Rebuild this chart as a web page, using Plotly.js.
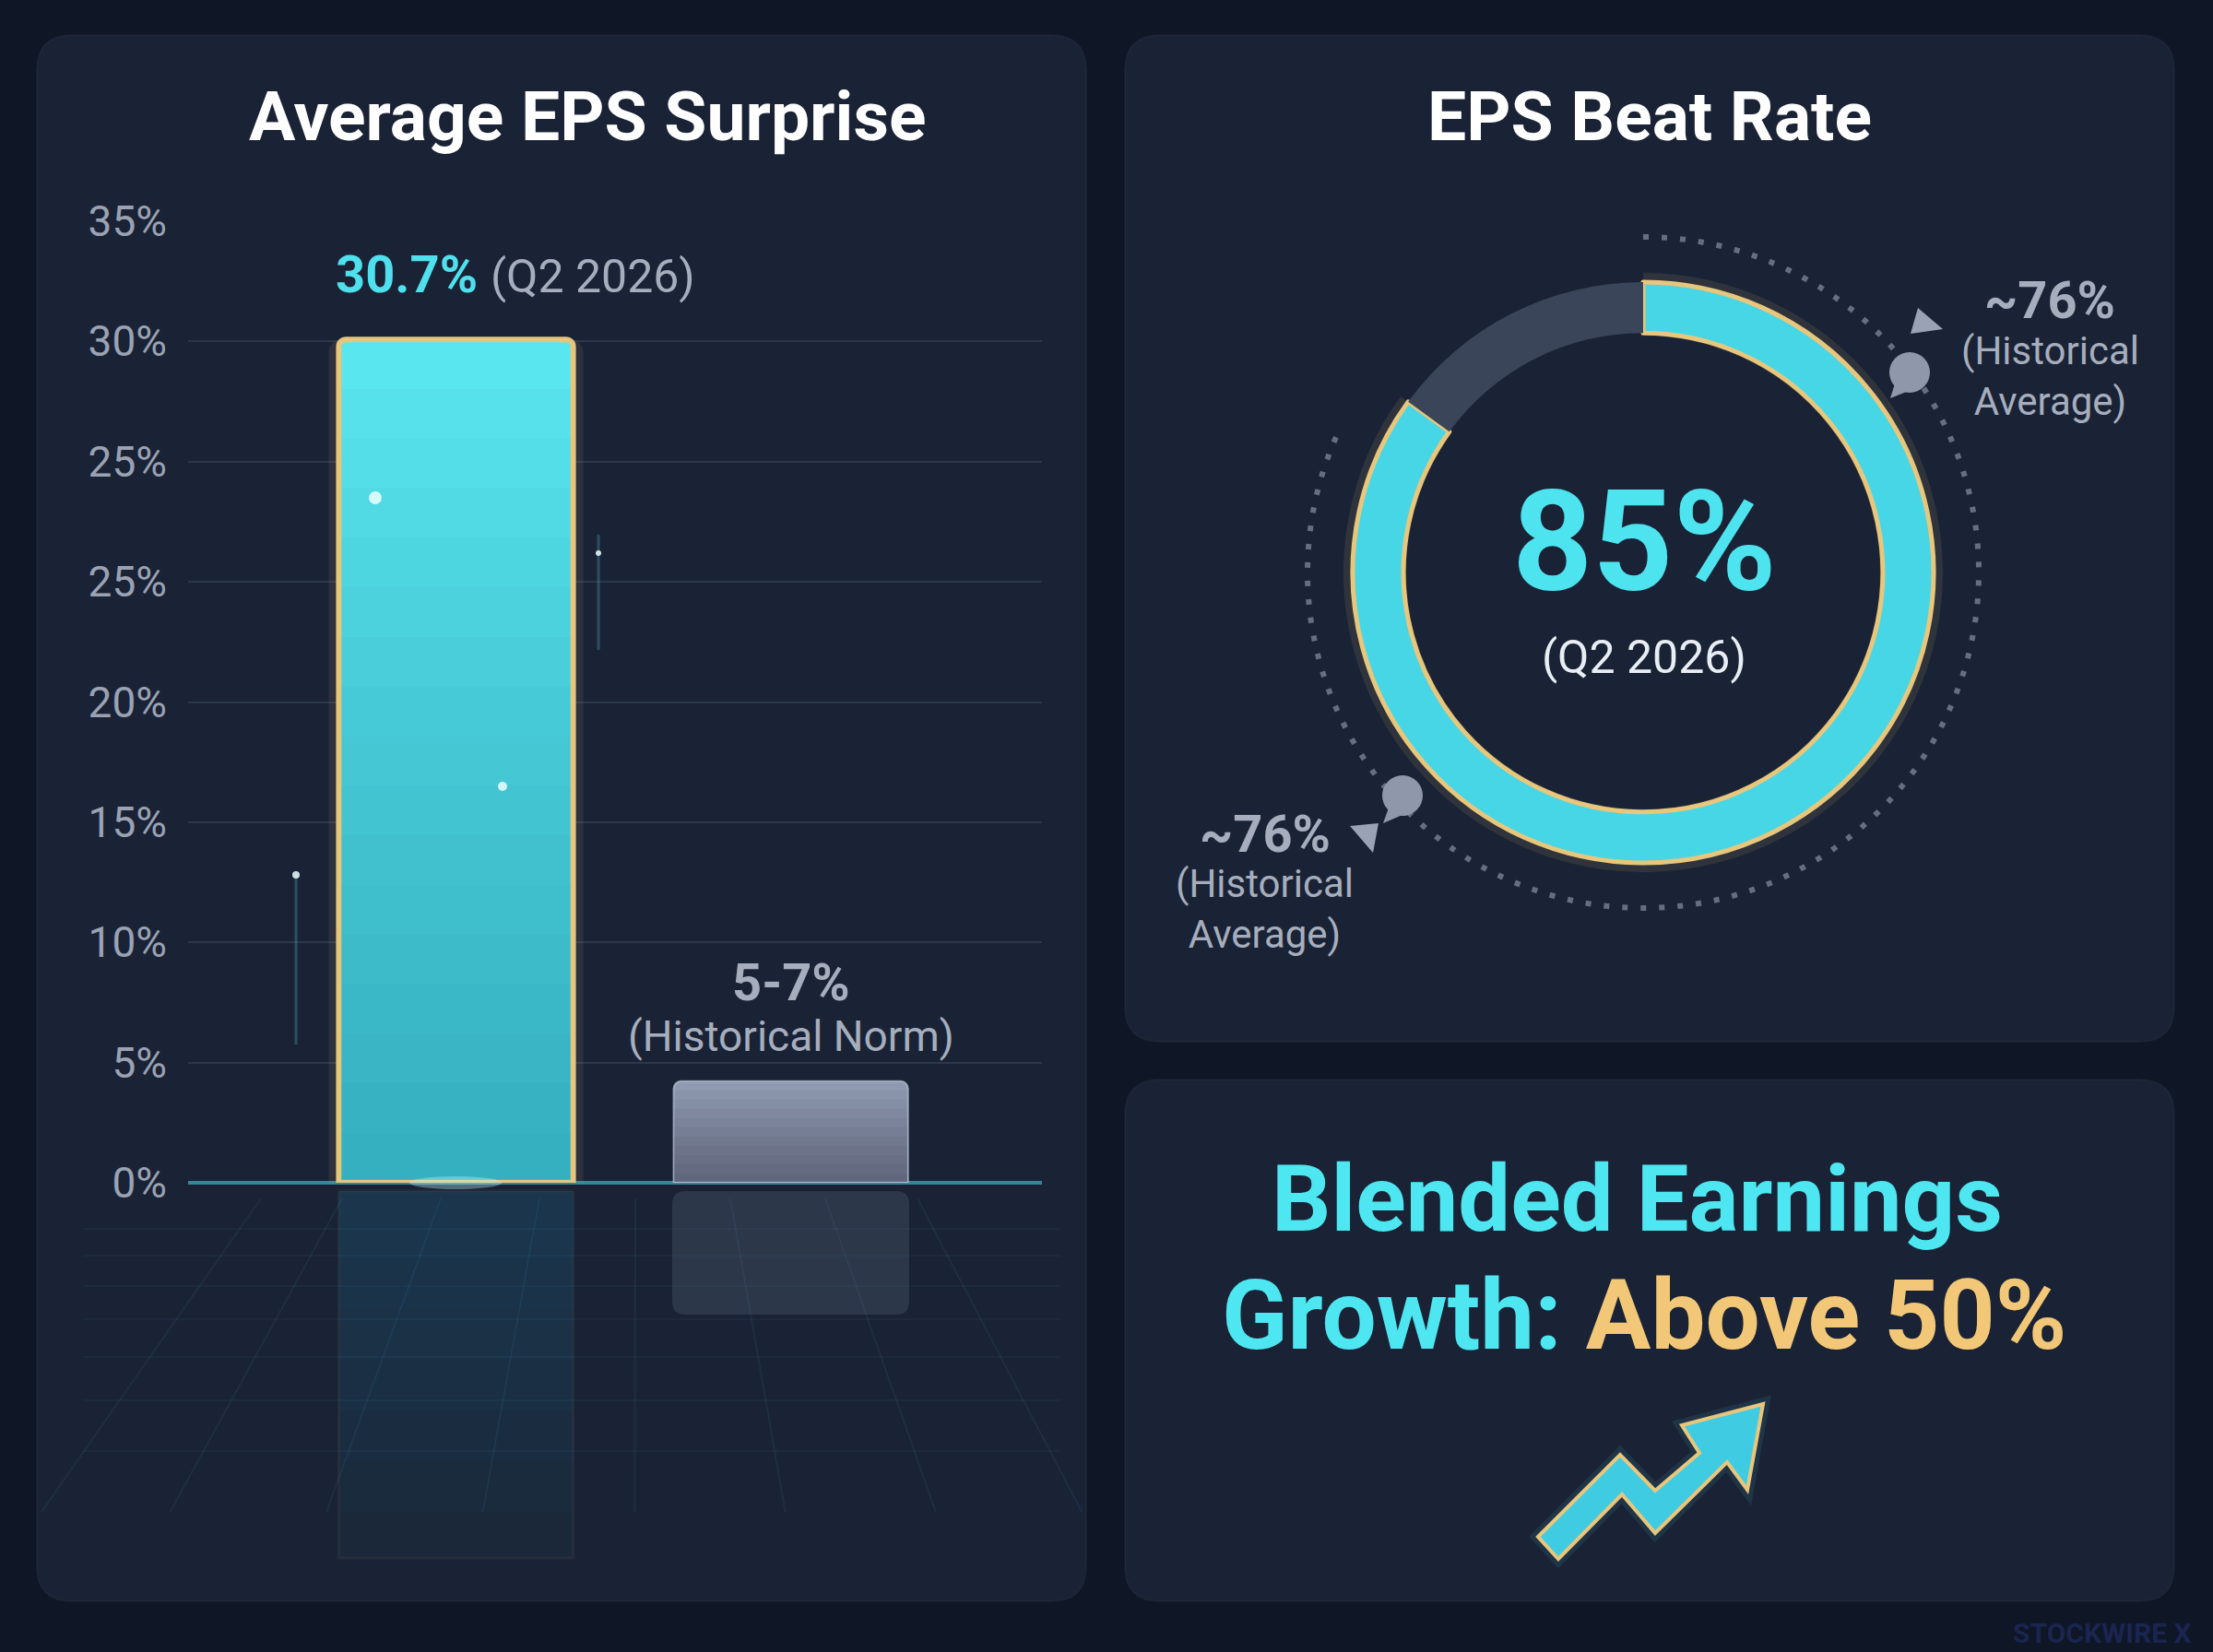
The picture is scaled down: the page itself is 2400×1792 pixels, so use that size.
<!DOCTYPE html>
<html>
<head>
<meta charset="utf-8">
<script src="https://cdn.plot.ly/plotly-3.0.1.min.js"></script>
<style>
  html, body { margin: 0; padding: 0; background: #0f1626; }
  #chart { width: 2400px; height: 1792px; }
</style>
</head>
<body>
<div id="chart"></div>
<script>
// ---------------- DATA ----------------
const categories = ["Q2 2026", "Historical Norm"];
const surprise = [30.7, 3.7];
const surpriseLabels = ["30.7%", "5-7%"];
const surpriseNotes = ["(Q2 2026)", "(Historical Norm)"];
const yTickVals = [0, 4.375, 8.75, 13.125, 17.5, 21.875, 26.25, 30.625, 35];
const yTickText = ["0%", "5%", "10%", "15%", "20%", "25%", "25%", "30%", "35%"];
const beatLabels = ["Beat", "Remaining"];
const beatRate = [85, 15];
const beatPeriod = "(Q2 2026)";
const histAvgLabel = "~76%";
const histAvgNote = "(Historical<br>Average)";
const growthLine1 = "Blended Earnings";
const growthLead = "Growth:";
const growthValue = "Above 50%";
const titles = ["Average EPS Surprise", "EPS Beat Rate"];

// ---------------- HELPERS (pixel -> paper) ----------------
const W = 2400, H = 1792;
const X = px => px / W;
const Y = py => 1 - py / H;
const F = 'Roboto, "Open Sans", sans-serif';

function rr(x0, y0, x1, y1, r) {
  return `M${X(x0 + r)},${Y(y0)} L${X(x1 - r)},${Y(y0)} Q${X(x1)},${Y(y0)} ${X(x1)},${Y(y0 + r)} ` +
         `L${X(x1)},${Y(y1 - r)} Q${X(x1)},${Y(y1)} ${X(x1 - r)},${Y(y1)} L${X(x0 + r)},${Y(y1)} ` +
         `Q${X(x0)},${Y(y1)} ${X(x0)},${Y(y1 - r)} L${X(x0)},${Y(y0 + r)} Q${X(x0)},${Y(y0)} ${X(x0 + r)},${Y(y0)} Z`;
}
function poly(pts) {
  return pts.map((p, i) => (i ? 'L' : 'M') + X(p[0]) + ',' + Y(p[1])).join(' ') + ' Z';
}
// circular arc (clockwise from 12 o'clock, degrees) as cubic Beziers, pixel geometry -> paper
function arcPath(cx, cy, r, a0, a1) {
  const rad = d => d * Math.PI / 180;
  const pt = a => [cx + r * Math.sin(rad(a)), cy - r * Math.cos(rad(a))];
  const n = Math.ceil((a1 - a0) / 90);
  const step = (a1 - a0) / n;
  const t = 4 / 3 * Math.tan(rad(step) / 4) * r;
  let p = pt(a0);
  let d = `M${X(p[0])},${Y(p[1])}`;
  for (let i = 0; i < n; i++) {
    const s = a0 + i * step, e = s + step;
    const ps = pt(s), pe = pt(e);
    const c1 = [ps[0] + t * Math.cos(rad(s)), ps[1] + t * Math.sin(rad(s))];
    const c2 = [pe[0] - t * Math.cos(rad(e)), pe[1] - t * Math.sin(rad(e))];
    d += ` C${X(c1[0])},${Y(c1[1])} ${X(c2[0])},${Y(c2[1])} ${X(pe[0])},${Y(pe[1])}`;
  }
  return d;
}

// ---------------- LAYOUT GEOMETRY ----------------
const xRange = [-0.8, 1.75];
const ring = { cx: 1782, cy: 621, r: 315 };
const ringGlow = { r: 325 };
const dots = { r: 364 };

// ---------------- SHAPES ----------------
const shapes = [];
// panels
[[40, 38, 1178, 1737], [1220, 38, 2358, 1130], [1220, 1171, 2358, 1737]].forEach(p => {
  shapes.push({ type: 'path', xref: 'paper', yref: 'paper', path: rr(p[0], p[1], p[2], p[3], 38),
    fillcolor: '#1a2335', line: { color: 'rgba(255,255,255,0.03)', width: 2 }, layer: 'below' });
});
// floor perspective grid (decorative)
const vp = [690, 732];
[283, 371, 478, 585, 689, 792, 895, 995].forEach(xt => {
  const k = (1640 - vp[1]) / (1305 - vp[1]);
  shapes.push({ type: 'line', xref: 'paper', yref: 'paper', x0: X(xt), y0: Y(1300),
    x1: X(vp[0] + (xt - vp[0]) * k), y1: Y(1640), line: { color: 'rgba(70,170,215,0.09)', width: 2 }, layer: 'below' });
});
[1333, 1362, 1395, 1431, 1472, 1519, 1574].forEach(yy => {
  shapes.push({ type: 'line', xref: 'paper', yref: 'paper', x0: X(90), y0: Y(yy), x1: X(1150), y1: Y(yy),
    line: { color: 'rgba(70,170,215,0.06)', width: 2 }, layer: 'below' });
});
// bar reflections (decorative)
shapes.push({ type: 'rect', xref: 'x', yref: 'paper', x0: -0.35, x1: 0.35, y0: Y(1690), y1: Y(1292),
  fillcolor: 'rgba(50,170,200,0.04)', line: { color: 'rgba(230,190,110,0.06)', width: 3 }, layer: 'below' });
for (let i = 0; i < 6; i++) {
  shapes.push({ type: 'rect', xref: 'x', yref: 'paper', x0: -0.35, x1: 0.35, y0: Y(1640 - i * 55), y1: Y(1292),
    fillcolor: 'rgba(60,190,220,0.025)', line: { width: 0 }, layer: 'below' });
}
shapes.push({ type: 'path', xref: 'paper', yref: 'paper', path: rr(729, 1292, 986, 1426, 14),
  fillcolor: 'rgba(120,135,160,0.2)', line: { width: 0 }, layer: 'below' });
// light streaks (decorative)
shapes.push({ type: 'line', xref: 'paper', yref: 'paper', x0: X(321), y0: Y(949), x1: X(321), y1: Y(1133),
  line: { color: 'rgba(90,220,240,0.25)', width: 3 }, layer: 'below' });
shapes.push({ type: 'line', xref: 'paper', yref: 'paper', x0: X(649), y0: Y(580), x1: X(649), y1: Y(705),
  line: { color: 'rgba(90,220,240,0.25)', width: 3 }, layer: 'below' });
// bar gradient overlays (styling)
for (let i = 1; i <= 16; i++) {
  shapes.push({ type: 'rect', xref: 'x', yref: 'y', x0: -0.342, x1: 0.342, y0: 0.12, y1: surprise[0] * i / 17,
    fillcolor: 'rgba(15,115,155,0.04)', line: { width: 0 }, layer: 'above' });
}
for (let i = 1; i <= 10; i++) {
  shapes.push({ type: 'rect', xref: 'x', yref: 'y', x0: 0.652, x1: 1.348, y0: 0.04, y1: surprise[1] * i / 11,
    fillcolor: 'rgba(35,45,65,0.05)', line: { width: 0 }, layer: 'above' });
}
// sparkles
[[407, 540, 7], [545, 853, 5], [321, 949, 4], [649, 600, 3]].forEach(s => {
  shapes.push({ type: 'circle', xref: 'paper', yref: 'paper', x0: X(s[0] - s[2]), x1: X(s[0] + s[2]),
    y0: Y(s[1] + s[2]), y1: Y(s[1] - s[2]), fillcolor: 'rgba(235,255,255,0.85)', line: { width: 0 }, layer: 'above' });
});
// baseline glow under bar 1
shapes.push({ type: 'circle', xref: 'paper', yref: 'paper', x0: X(444), x1: X(544), y0: Y(1290), y1: Y(1276),
  fillcolor: 'rgba(190,250,255,0.35)', line: { width: 0 }, layer: 'above' });
// dotted arc around donut
shapes.push({ type: 'path', xref: 'paper', yref: 'paper', path: arcPath(ring.cx, ring.cy, dots.r, 0, 294),
  line: { color: 'rgba(140,152,172,0.65)', width: 6, dash: '6px,14px' }, layer: 'below' });
// pointer markers (decorative)
[[2071, 404, 22], [1521, 863, 22]].forEach(c => {
  shapes.push({ type: 'circle', xref: 'paper', yref: 'paper', x0: X(c[0] - c[2]), x1: X(c[0] + c[2]),
    y0: Y(c[1] + c[2]), y1: Y(c[1] - c[2]), fillcolor: '#8f98aa', line: { width: 0 }, layer: 'above' });
});
shapes.push({ type: 'path', xref: 'paper', yref: 'paper', path: poly([[2050, 432], [2060, 400], [2080, 420]]),
  fillcolor: '#8f98aa', line: { width: 0 }, layer: 'above' });
shapes.push({ type: 'path', xref: 'paper', yref: 'paper', path: poly([[1500, 893], [1530, 880], [1512, 860]]),
  fillcolor: '#8f98aa', line: { width: 0 }, layer: 'above' });
shapes.push({ type: 'path', xref: 'paper', yref: 'paper', path: poly([[2080, 334], [2107, 357], [2072, 362]]),
  fillcolor: '#9aa3b5', line: { width: 0 }, layer: 'above' });
shapes.push({ type: 'path', xref: 'paper', yref: 'paper', path: poly([[1464, 896], [1495, 893], [1489, 925]]),
  fillcolor: '#9aa3b5', line: { width: 0 }, layer: 'above' });
// growth arrow icon
const arrowPts = [[1668, 1667], [1757, 1578], [1795, 1617], [1843, 1576], [1824, 1546], [1912, 1523],
                  [1895, 1616], [1873, 1586], [1795, 1663], [1759, 1621], [1690, 1691]];
shapes.push({ type: 'path', xref: 'paper', yref: 'paper', path: poly(arrowPts),
  fillcolor: 'rgba(0,0,0,0)', line: { color: 'rgba(80,220,240,0.10)', width: 14 }, layer: 'above' });
shapes.push({ type: 'path', xref: 'paper', yref: 'paper', path: poly(arrowPts),
  fillcolor: '#3fcbe2', line: { color: '#e8c67c', width: 4 }, layer: 'above' });

// ---------------- TRACES ----------------
const traces = [
  // bar glow
  { type: 'bar', x: categories, y: [surprise[0], null], width: 0.76,
    marker: { color: 'rgba(235,200,120,0.09)', line: { width: 0 }, cornerradius: 14 },
    hoverinfo: 'skip', showlegend: false },
  // main bars
  { type: 'bar', x: categories, y: surprise, width: 0.7,
    marker: { color: ['#5ae6ef', '#8f9ab1'], line: { color: ['#e6c57c', 'rgba(190,200,220,0.65)'], width: [6, 2] },
              cornerradius: 8 },
    hoverinfo: 'skip', showlegend: false },
  // reference line glow
  { type: 'scatter', mode: 'lines', x: [xRange[0] + 0.02, xRange[1] - 0.015], y: [surprise[0], surprise[0]],
    line: { color: 'rgba(80,220,236,0.18)', width: 12 }, hoverinfo: 'skip', showlegend: false, cliponaxis: false },
  // reference line
  { type: 'scatter', mode: 'lines+markers', x: [xRange[0] + 0.02, xRange[1] - 0.015], y: [surprise[0], surprise[0]],
    line: { color: '#52dfec', width: 4 }, marker: { size: 15, color: '#6aeaf4', line: { color: 'rgba(80,220,236,0.4)', width: 6 } },
    hoverinfo: 'skip', showlegend: false, cliponaxis: false },
  // donut glow
  { type: 'pie', values: beatRate, labels: beatLabels, sort: false, direction: 'clockwise', rotation: 0,
    hole: 0.79, textinfo: 'none', hoverinfo: 'skip', showlegend: false,
    domain: { x: [X(ring.cx - ringGlow.r), X(ring.cx + ringGlow.r)], y: [Y(ring.cy + ringGlow.r), Y(ring.cy - ringGlow.r)] },
    marker: { colors: ['rgba(240,205,130,0.10)', 'rgba(0,0,0,0)'], line: { width: 0 } } },
  // donut
  { type: 'pie', values: beatRate, labels: beatLabels, sort: false, direction: 'clockwise', rotation: 0,
    hole: 0.825, textinfo: 'none', hoverinfo: 'skip', showlegend: false,
    domain: { x: [X(ring.cx - ring.r), X(ring.cx + ring.r)], y: [Y(ring.cy + ring.r), Y(ring.cy - ring.r)] },
    marker: { colors: ['#47d6e6', '#3a4559'], line: { color: ['#e8c67c', 'rgba(0,0,0,0)'], width: [5, 0] } } }
];

// ---------------- ANNOTATIONS ----------------
const gray = '#a6aebd';
const ann = (text, x, y, size, color, extra) => Object.assign({
  text, x, y, xref: 'paper', yref: 'paper', showarrow: false, xanchor: 'center', yanchor: 'middle',
  font: { family: F, size, color }
}, extra || {});

const annotations = [
  ann(titles[0], X(637), Y(126), 75, '#ffffff', { font: { family: F, size: 75, color: '#ffffff', weight: 700 } }),
  ann(titles[1], X(1789), Y(126), 75, '#ffffff', { font: { family: F, size: 75, color: '#ffffff', weight: 700 } }),
  ann(`<b>${surprise[0]}%</b> <span style="color:${gray};font-size:50px">${surpriseNotes[0]}</span>`,
      X(559), Y(298), 56, '#4fe0ee'),
  ann(`<b>${surpriseLabels[1]}</b>`, categories[1], Y(1066), 56, gray, { xref: 'x' }),
  ann(surpriseNotes[1], categories[1], Y(1124), 46, gray, { xref: 'x' }),
  ann(`<b>${beatRate[0]}%</b>`, X(1783), Y(588), 152, '#4de4f0'),
  ann(beatPeriod, X(1783), Y(713), 50, '#e9eef4'),
  ann(`<b>${histAvgLabel}</b>`, X(2223), Y(326), 56, gray),
  ann(histAvgNote, X(2223), Y(408), 42, gray),
  ann(`<b>${histAvgLabel}</b>`, X(1372), Y(905), 56, gray),
  ann(histAvgNote, X(1371), Y(986), 42, gray),
  ann(`<b>${growthLine1}</b>`, X(1775), Y(1300), 101, '#4de6f1'),
  ann(`<b>${growthLead} <span style="color:#f2c878">${growthValue}</span></b>`, X(1783), Y(1427), 105, '#4de6f1'),
  ann('<b>STOCKWIRE X</b>', X(2280), Y(1771), 30, '#1a2550')
];

// ---------------- LAYOUT ----------------
const layout = {
  width: W, height: H,
  margin: { l: 0, r: 0, t: 0, b: 0, pad: 0 },
  paper_bgcolor: '#0f1626',
  plot_bgcolor: 'rgba(0,0,0,0)',
  barmode: 'overlay',
  showlegend: false,
  xaxis: {
    type: 'category', categoryorder: 'array', categoryarray: categories,
    domain: [X(204), X(1130)], range: xRange,
    showticklabels: false, showgrid: false, zeroline: false, showline: false, ticks: '', fixedrange: true
  },
  yaxis: {
    domain: [Y(1283), Y(240)], range: [0, 35],
    tickmode: 'array', tickvals: yTickVals, ticktext: yTickText,
    tickfont: { family: F, size: 46, color: '#9aa2b3' },
    ticklabelstandoff: 22,
    showgrid: true, gridcolor: 'rgba(130,150,185,0.18)', gridwidth: 2,
    zeroline: true, zerolinecolor: 'rgba(80,195,220,0.6)', zerolinewidth: 4,
    showline: false, ticks: '', fixedrange: true
  },
  shapes, annotations
};

Plotly.newPlot('chart', traces, layout, { displayModeBar: false, staticPlot: true });
</script>
</body>
</html>
